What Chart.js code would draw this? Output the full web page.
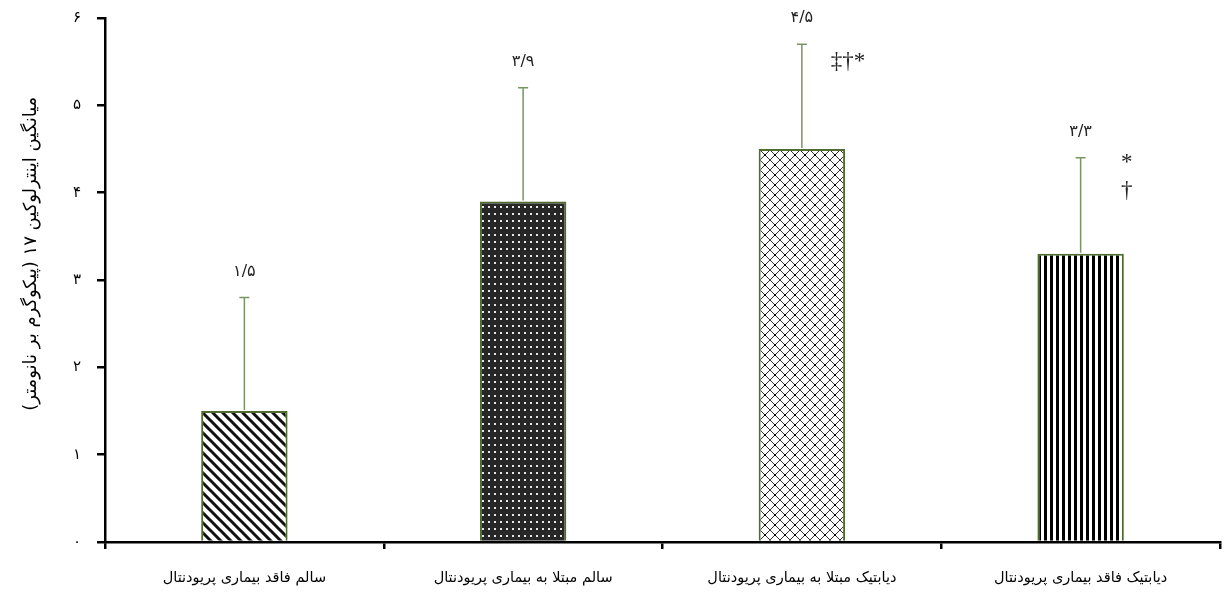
<!DOCTYPE html>
<html>
<head>
<meta charset="utf-8">
<script src="https://cdn.jsdelivr.net/npm/chart.js@4.4.0/dist/chart.umd.min.js"></script>
<style>
  html, body { margin: 0; padding: 0; background: #fff; }
  #wrap { width: 1227px; height: 601px; }
</style>
</head>
<body>
<div id="wrap"><canvas id="il17"></canvas></div>
<script>
const groups = ['سالم فاقد بیماری پریودنتال', 'سالم مبتلا به بیماری پریودنتال', 'دیابتیک مبتلا به بیماری پریودنتال', 'دیابتیک فاقد بیماری پریودنتال'];
const means = [1.5, 3.9, 4.5, 3.3];
const sds = [1.3, 1.3, 1.2, 1.1];
const meanLabels = ['۱/۵', '۳/۹', '۴/۵', '۳/۳'];
const yTickLabels = ['۰', '۱', '۲', '۳', '۴', '۵', '۶'];
const yTitle = 'میانگین اینترلوکین ۱۷ (پیکوگرم بر نانومتر)';
// significance marks: [bar index, level on y scale, text]
const sigMarks = [[2, 5.5, '‡†*'], [3, 4.34, '*'], [3, 4.02, '†']];

const FONT = "'DejaVu Sans', 'Noto Sans', sans-serif";
const MARK_FONT = "'Liberation Serif', 'DejaVu Serif', serif";

function tile(w, h, draw) {
  const c = document.createElement('canvas');
  c.width = w; c.height = h;
  const g = c.getContext('2d');
  draw(g, w, h);
  return document.createElement('canvas').getContext('2d').createPattern(c, 'repeat');
}

const diagPattern = tile(10, 10, (g, w, h) => {
  g.fillStyle = '#fff'; g.fillRect(0, 0, w, h);
  g.strokeStyle = '#111'; g.lineWidth = 3;
  g.beginPath();
  g.moveTo(-5, -5); g.lineTo(15, 15);
  g.moveTo(-5, 5); g.lineTo(5, 15);
  g.moveTo(5, -5); g.lineTo(15, 5);
  g.stroke();
});
const dotPattern = tile(6, 7, (g, w, h) => {
  g.fillStyle = '#272727'; g.fillRect(0, 0, w, h);
  g.fillStyle = '#e8e8e8'; g.fillRect(2, 3, 2, 2);
});
const crossPattern = tile(10, 10, (g, w, h) => {
  g.fillStyle = '#fff'; g.fillRect(0, 0, w, h);
  g.strokeStyle = '#333'; g.lineWidth = 1;
  g.beginPath();
  g.moveTo(0, 0); g.lineTo(10, 10);
  g.moveTo(10, 0); g.lineTo(0, 10);
  g.stroke();
  g.fillStyle = '#000';
  g.fillRect(4, 4, 2, 2);
});
const stripePattern = tile(6, 6, (g, w, h) => {
  g.fillStyle = '#fff'; g.fillRect(0, 0, w, h);
  g.fillStyle = '#000'; g.fillRect(0, 0, 3, h);
});

const errorBars = {
  id: 'errorBars',
  afterDatasetsDraw(chart) {
    const ctx = chart.ctx;
    const y = chart.scales.y;
    const meta = chart.getDatasetMeta(0);
    ctx.save();
    meta.data.forEach((bar, i) => {
      const top = y.getPixelForValue(means[i] + sds[i]);
      ctx.strokeStyle = '#7a9660';
      ctx.lineWidth = 1.5;
      ctx.beginPath();
      ctx.moveTo(bar.x, bar.y - 1);
      ctx.lineTo(bar.x, top);
      ctx.moveTo(bar.x - 5, top);
      ctx.lineTo(bar.x + 5, top);
      ctx.stroke();
      ctx.fillStyle = '#222';
      ctx.font = '16px ' + FONT;
      ctx.textAlign = 'center';
      ctx.textBaseline = 'middle';
      ctx.fillText(meanLabels[i], bar.x, top - 26);
    });
    ctx.font = '23px ' + MARK_FONT;
    sigMarks.forEach(([i, lvl, txt]) => {
      const bar = meta.data[i];
      ctx.fillText(txt, bar.x + 46, y.getPixelForValue(lvl));
    });
    // y axis title, sits a little above the middle of the axis
    ctx.font = '18px ' + FONT;
    ctx.fillStyle = '#000';
    ctx.translate(31, y.getPixelForValue(3.3));
    ctx.rotate(-Math.PI / 2);
    ctx.fillText(yTitle, 0, 0);
    ctx.restore();
  }
};

new Chart(document.getElementById('il17'), {
  type: 'bar',
  data: {
    labels: groups,
    datasets: [{
      data: means,
      backgroundColor: [diagPattern, dotPattern, crossPattern, stripePattern],
      borderColor: '#4f6b2e',
      borderWidth: 2,
      barPercentage: 0.31,
      categoryPercentage: 1
    }]
  },
  options: {
    responsive: true,
    maintainAspectRatio: false,
    animation: false,
    layout: { padding: { top: 18, right: 7, left: 0, bottom: 0 } },
    plugins: { legend: { display: false }, tooltip: { enabled: false } },
    scales: {
      x: {
        afterFit: s => { s.height = 59; },
        border: { color: '#000', width: 2.5 },
        grid: { drawOnChartArea: false, tickLength: 7, color: '#000', lineWidth: 2.5, offset: true },
        ticks: { color: '#000', font: { family: FONT, size: 14.5 }, padding: 21, maxRotation: 0, autoSkip: false }
      },
      y: {
        min: 0, max: 6,
        afterFit: s => { s.width = 105; s.paddingTop = 0; s.paddingBottom = 0; },
        border: { color: '#000', width: 2.5 },
        grid: { drawOnChartArea: false, tickLength: 8, color: '#000', lineWidth: 2.5 },
        ticks: {
          stepSize: 1, color: '#000', padding: 16,
          font: { family: FONT, size: 15 },
          callback: v => yTickLabels[v]
        }
      }
    }
  },
  plugins: [errorBars]
});
</script>
</body>
</html>
